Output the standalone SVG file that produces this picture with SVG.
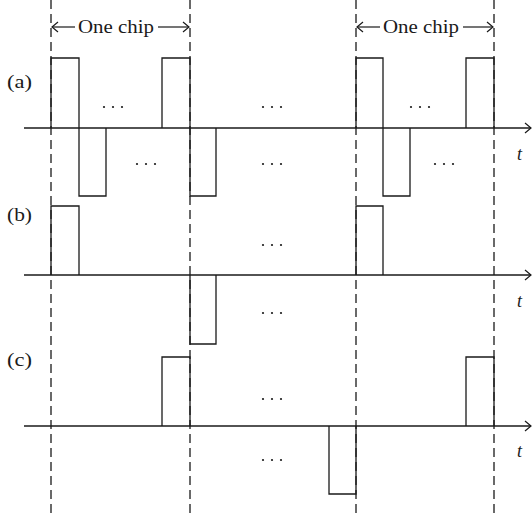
<svg xmlns="http://www.w3.org/2000/svg" width="532" height="518" viewBox="0 0 532 518">
  <style>
    .bg { fill: #ffffff; }
    .axis { stroke: #1a1a1a; stroke-width: 1.4; fill: none; }
    .wave { stroke: #1a1a1a; stroke-width: 1.3; fill: none; }
    .grid { stroke: #1a1a1a; stroke-width: 1.3; stroke-dasharray: 9 5; fill: none; }
    .head { stroke: #1a1a1a; stroke-width: 1.2; fill: none; }
    .lbl { font-family: "Liberation Serif", "Times New Roman", serif; font-size: 18px; fill: #1a1a1a; }
    .var { font-family: "Liberation Serif", "Times New Roman", serif; font-size: 18px; font-style: italic; fill: #1a1a1a; }
    .dot { fill: #1a1a1a; }
  </style>
  <defs>
    <g id="dots">
      <circle cx="-9" cy="0" r="1.1" class="dot"/>
      <circle cx="0" cy="0" r="1.1" class="dot"/>
      <circle cx="9" cy="0" r="1.1" class="dot"/>
    </g>
  </defs>
  <rect class="bg" x="0" y="0" width="532" height="518"/>

  <!-- chip boundaries -->
  <g id="boundaries">
    <line class="grid" x1="51" y1="0" x2="51" y2="514"/>
    <line class="grid" x1="190" y1="0" x2="190" y2="514"/>
    <line class="grid" x1="356" y1="0" x2="356" y2="514"/>
    <line class="grid" x1="494" y1="0" x2="494" y2="514"/>
  </g>

  <!-- chip-width markers -->
  <g id="chip1">
    <line class="head" x1="52" y1="27" x2="75" y2="27"/>
    <polyline class="head" points="58,22 52,27 58,32"/>
    <text class="lbl" x="78" y="33" textLength="76" lengthAdjust="spacingAndGlyphs">One chip</text>
    <line class="head" x1="158" y1="27" x2="189" y2="27"/>
    <polyline class="head" points="183,22 189,27 183,32"/>
  </g>
  <g id="chip2">
    <line class="head" x1="357" y1="27" x2="380" y2="27"/>
    <polyline class="head" points="363,22 357,27 363,32"/>
    <text class="lbl" x="383" y="33" textLength="76" lengthAdjust="spacingAndGlyphs">One chip</text>
    <line class="head" x1="463" y1="27" x2="493" y2="27"/>
    <polyline class="head" points="487,22 493,27 487,32"/>
  </g>

  <!-- time axes -->
  <g id="axes">
    <line class="axis" x1="24" y1="128" x2="531" y2="128"/>
    <polyline class="head" points="525,123 531,128 525,133"/>
    <line class="axis" x1="24" y1="275" x2="531" y2="275"/>
    <polyline class="head" points="525,270 531,275 525,280"/>
    <line class="axis" x1="24" y1="426" x2="531" y2="426"/>
    <polyline class="head" points="525,421 531,426 525,431"/>
  </g>

  <!-- waveform (a) -->
  <g id="wave-a">
    <text class="lbl" x="7" y="88" textLength="25" lengthAdjust="spacingAndGlyphs">(a)</text>
    <path class="wave" d="M51,128 V58 H79 V196 H106 V128"/>
    <path class="wave" d="M162,128 V58 H190 V196 H216 V128"/>
    <path class="wave" d="M356,128 V58 H383 V196 H410 V128"/>
    <path class="wave" d="M466,128 V58 H494 V128"/>
    <use href="#dots" x="113" y="107"/>
    <use href="#dots" x="146" y="164"/>
    <use href="#dots" x="272" y="107"/>
    <use href="#dots" x="272" y="164"/>
    <use href="#dots" x="420" y="107"/>
    <use href="#dots" x="444" y="164"/>
    <text class="var" x="517" y="160">t</text>
  </g>

  <!-- waveform (b) -->
  <g id="wave-b">
    <text class="lbl" x="7" y="221" textLength="25" lengthAdjust="spacingAndGlyphs">(b)</text>
    <path class="wave" d="M51,275 V206 H79 V275"/>
    <path class="wave" d="M190,275 V344 H216 V275"/>
    <path class="wave" d="M356,275 V206 H383 V275"/>
    <use href="#dots" x="272" y="245"/>
    <use href="#dots" x="272" y="313"/>
    <text class="var" x="517" y="307">t</text>
  </g>

  <!-- waveform (c) -->
  <g id="wave-c">
    <text class="lbl" x="7" y="366" textLength="25" lengthAdjust="spacingAndGlyphs">(c)</text>
    <path class="wave" d="M162,426 V357 H190 V426"/>
    <path class="wave" d="M329,426 V494 H356 V426"/>
    <path class="wave" d="M466,426 V357 H494 V426"/>
    <use href="#dots" x="272" y="399"/>
    <use href="#dots" x="272" y="460"/>
    <text class="var" x="517" y="457">t</text>
  </g>
</svg>
